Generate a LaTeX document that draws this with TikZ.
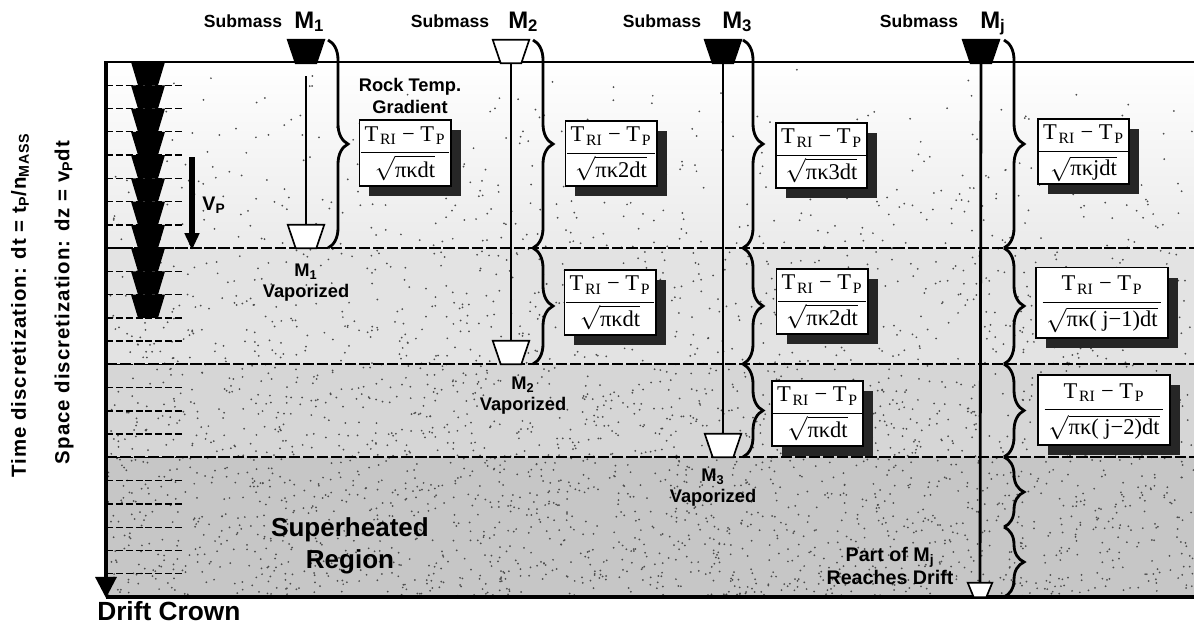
\documentclass[tikz,border=0pt]{standalone}
\usepackage{fontspec}
\usepackage{amsmath}
\setmainfont{Liberation Sans}
\newfontfamily\tms{Liberation Serif}
\newfontfamily\widesans[LetterSpace=5]{Liberation Sans}
\usetikzlibrary{arrows.meta,decorations.pathreplacing,shadows}
\setlength{\arrayrulewidth}{0.9pt}
\newcommand{\gradfrac}[1]{\begin{tabular}{@{\,}c@{\,}}\rule{0pt}{14pt}\tms T\kern1.2pt\textsubscript{RI} − T\kern1.2pt\textsubscript{P}\\[2.5pt]\hline\rule{0pt}{17pt}$\sqrt{\text{\tms #1}}$\end{tabular}}
\newcommand{\masstrap}[3]{\draw[line width=1.2pt, fill=#2] (#1.north west) -- (#1.north east) -- ([xshift=-#3]#1.south east) -- ([xshift=#3]#1.south west) -- cycle;}
\begin{document}
\begin{tikzpicture}[x=0.025cm, y=-0.025cm,
  lbl/.style={font=\bfseries\fontsize{12.5}{14}\selectfont, inner sep=0pt},
  mlbl/.style={font=\bfseries\fontsize{17}{19}\selectfont, inner sep=0pt},
  vap/.style={font=\bfseries\fontsize{13}{15}\selectfont, align=center, inner sep=0pt},
  big/.style={font=\bfseries\fontsize{18.5}{23}\selectfont, align=center, inner sep=0pt},
  rot/.style={font=\widesans\bfseries\fontsize{14.5}{16}\selectfont, rotate=90, inner sep=0pt},
  fbox/.style={draw, line width=1.4pt, fill=white, inner sep=1pt,
    font=\fontsize{16}{17}\selectfont,
    minimum width=2.175cm, minimum height=1.625cm,
    drop shadow={shadow xshift=0.25cm, shadow yshift=-0.25cm, fill=black!85, opacity=1}},
  wbox/.style={fbox, minimum width=3.3cm, minimum height=1.75cm},
  massn/.style={rectangle, inner sep=0pt, minimum width=0.9cm, minimum height=0.575cm},
  smalln/.style={rectangle, inner sep=0pt, minimum width=0.6cm, minimum height=0.35cm},
  massline/.style={line width=2pt},
  brc/.style={decorate, decoration={brace, amplitude=0.5cm}, line width=2pt},
  tickln/.style={line width=1pt, dash pattern=on 5pt off 2pt},
  layer/.style={line width=1pt, dash pattern=on 8pt off 2pt}]
\useasboundingbox (0,0) rectangle (1194,633);
% rock background
\shade[top color=white, bottom color=gray!16] (106,62) rectangle (1194,248);
\fill[gray!22] (106,248) rectangle (1194,364);
\fill[gray!32] (106,364) rectangle (1194,457);
\fill[gray!45] (106,457) rectangle (1194,597);
\pgfmathsetseed{7}
\foreach \i in {1,...,3200}{
  \pgfmathsetmacro\xx{106+rnd*1088}
  \pgfmathsetmacro\yy{62+535*sqrt(rnd)}
  \fill[black!70] (\xx,\yy) circle (0.7pt);
}
% layer boundaries
\draw[layer] (106,248) -- (1194,248);
\draw[layer] (106,364) -- (1194,364);
\draw[layer] (106,457) -- (1194,457);
\foreach \k in {1,...,22} \draw[tickln] (106,{62+23.26*\k}) -- (183,{62+23.26*\k});
% stacked submasses
\foreach \k in {0,...,10}
  \fill (131,{62+23.26*\k}) -- (165,{62+23.26*\k}) -- (158,{62+23.26*(\k+1)}) -- (138,{62+23.26*(\k+1)}) -- cycle;
% frame
\draw[line width=1.5pt] (106,62) -- (1194,62);
\draw[line width=2.2pt] (106,597) -- (1194,597);
\coordinate (axtop) at (106,61);
\coordinate (axbot) at (106,598);
\draw[line width=2.2pt, -{Triangle[length=15pt,width=15pt]}] (axtop) -- (axbot);
% V_P arrow
\coordinate (vp1) at (192,157);
\coordinate (vp2) at (192,250);
\draw[line width=4.5pt, -{Triangle[length=12pt,width=10pt]}] (vp1) -- (vp2);
\node[font=\bfseries\fontsize{14}{16}\selectfont, inner sep=0pt] (vpl) at (214,205) {V\textsubscript{P}};
% side texts
\node[rot] (tdisc) at (20,305.5) {Time discretization: dt = t\textsubscript{P}/n\textsubscript{MASS}};
\node[rot] (sdisc) at (64,302.5) {Space discretization: dz = v\textsubscript{P}dt};
\node[font=\bfseries\fontsize{18.7}{20}\selectfont, inner sep=0pt, anchor=base west] (crown) at (97,620) {Drift Crown};
% submass headers
\node[lbl, anchor=base] (s1) at (243,27) {Submass};
\node[mlbl, anchor=base west] (h1) at (294,28) {M\textsubscript{1}};
\node[lbl, anchor=base] (s2) at (450,27) {Submass};
\node[mlbl, anchor=base west] (h2) at (508,28) {M\textsubscript{2}};
\node[lbl, anchor=base] (s3) at (662,27) {Submass};
\node[mlbl, anchor=base west] (h3) at (722,28) {M\textsubscript{3}};
\node[lbl, anchor=base] (sj) at (919,27) {Submass};
\node[mlbl, anchor=base west] (hj) at (980,28) {M\textsubscript{j}};
% mass nodes
\node[massn] (m1t) at (306,51.5) {};
\node[massn] (m1b) at (306,236.5) {};
\node[massn] (m2t) at (511,51.5) {};
\node[massn] (m2b) at (511,352.5) {};
\node[massn] (m3t) at (723,51.5) {};
\node[massn] (m3b) at (723,445.5) {};
\node[massn] (mjt) at (981,51.5) {};
\node[smalln] (mjb) at (980,590) {};
\draw[massline, shorten <=0.33cm] (m1t.south) -- (m1b.north);
\draw[massline] (m2t.south) -- (m2b.north);
\draw[massline] (m3t.south) -- (m3b.north);
\draw[massline] (mjt.south) -- (mjb.north);
\masstrap{m1t}{black}{0.2cm}
\masstrap{m1b}{white}{0.2cm}
\masstrap{m2t}{white}{0.2cm}
\masstrap{m2b}{white}{0.2cm}
\masstrap{m3t}{black}{0.2cm}
\masstrap{m3b}{white}{0.2cm}
\masstrap{mjt}{black}{0.2cm}
\masstrap{mjb}{white}{0.15cm}
% braces
\draw[brc] (328,40) -- (328,248);
\draw[brc] (533,40) -- (533,248);
\draw[brc] (533,248) -- (533,364);
\draw[brc] (743,40) -- (743,248);
\draw[brc] (743,248) -- (743,364);
\draw[brc] (743,364) -- (743,457);
\draw[brc] (1004,40) -- (1004,248);
\draw[brc] (1004,248) -- (1004,364);
\draw[brc] (1004,364) -- (1004,457);
\draw[brc] (1004,457) -- (1004,527);
\draw[brc] (1004,527) -- (1004,597);
% gradient boxes
\node[vap] (rock) at (410,96) {Rock Temp.\\Gradient};
\node[fbox] (b1) at (405,153) {\gradfrac{πκdt}};
\node[fbox] (b2a) at (611,153.5) {\gradfrac{πκ2dt}};
\node[fbox] (b2b) at (610,302.5) {\gradfrac{πκdt}};
\node[fbox] (b3a) at (821.5,155.5) {\gradfrac{πκ3dt}};
\node[fbox] (b3b) at (822,301.5) {\gradfrac{πκ2dt}};
\node[fbox] (b3c) at (817.5,413.5) {\gradfrac{πκdt}};
\node[fbox] (bja) at (1083.5,151.5) {\gradfrac{πκjdt}};
\node[wbox] (bjb) at (1102,302.5) {\gradfrac{πκ( j−1)dt}};
\node[wbox] (bjc) at (1104,410) {\gradfrac{πκ( j−2)dt}};
% vaporized labels
\node[vap] (v1) at (306,283) {M\textsubscript{1}\\Vaporized};
\node[vap] (v2) at (523,396) {M\textsubscript{2}\\Vaporized};
\node[vap] (v3) at (713,488) {M\textsubscript{3}\\Vaporized};
\node[big] (sup) at (350,546) {Superheated\\Region};
\node[vap, font=\bfseries\fontsize{14}{16}\selectfont] (part) at (890,566) {Part of M\textsubscript{j}\\Reaches Drift};
\end{tikzpicture}
\end{document}
